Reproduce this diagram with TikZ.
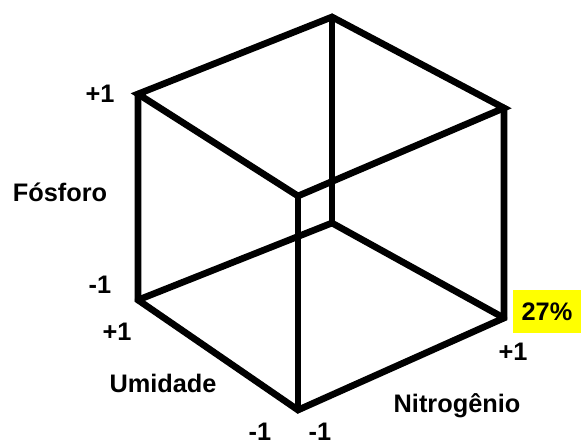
\documentclass[tikz,border=0pt]{standalone}
\usepackage{fontspec}
\setmainfont{Liberation Sans}
\usepackage{tikz}
\definecolor{hilite}{RGB}{255,255,0}
\tikzset{
    edge/.style={line width=5pt,line join=miter,line cap=round},
    lbl/.style={font=\bfseries\fontsize{19}{22}\selectfont,inner sep=0pt,anchor=base},
    tag/.style={rectangle,fill=hilite,inner sep=0pt,minimum width=51pt,minimum height=32.25pt,font=\bfseries\fontsize{19}{22}\selectfont},
}

\begin{document}
\begin{tikzpicture}[x=0.75pt,y=-0.75pt]
\useasboundingbox (0,0) rectangle (581,445);

% cube corners
\coordinate (tl) at (138,94);
\coordinate (tb) at (332,17);
\coordinate (tr) at (504,108);
\coordinate (tf) at (298,196);
\coordinate (bl) at (138,300);
\coordinate (hb) at (332,223);
\coordinate (br) at (504,318);
\coordinate (fb) at (298,410);

\draw[edge] (tl) -- (tb) -- (tr) -- (tf) -- cycle;
\draw[edge] (tl) -- (bl) -- (fb) -- (br) -- (tr);
\draw[edge] (tf) -- (fb);
\draw[edge] (tb) -- (hb);
\draw[edge] (bl) -- (hb) -- (br);

% axis labels
\node[lbl] (pHi) at (100,103) {+1};
\node[lbl] (pName) at (60,202) {Fósforo};
\node[lbl] (pLo) at (100,293) {-1};
\node[lbl] (uHi) at (117,340) {+1};
\node[lbl] (uName) at (163,392) {Umidade};
\node[lbl] (uLo) at (260,440) {-1};
\node[lbl] (nLo) at (320,440) {-1};
\node[lbl] (nName) at (457,412) {Nitrogênio};
\node[lbl] (nHi) at (513,360) {+1};
\node[tag] (yield) at (547,311.5) {27\%};
\end{tikzpicture}
\end{document}
